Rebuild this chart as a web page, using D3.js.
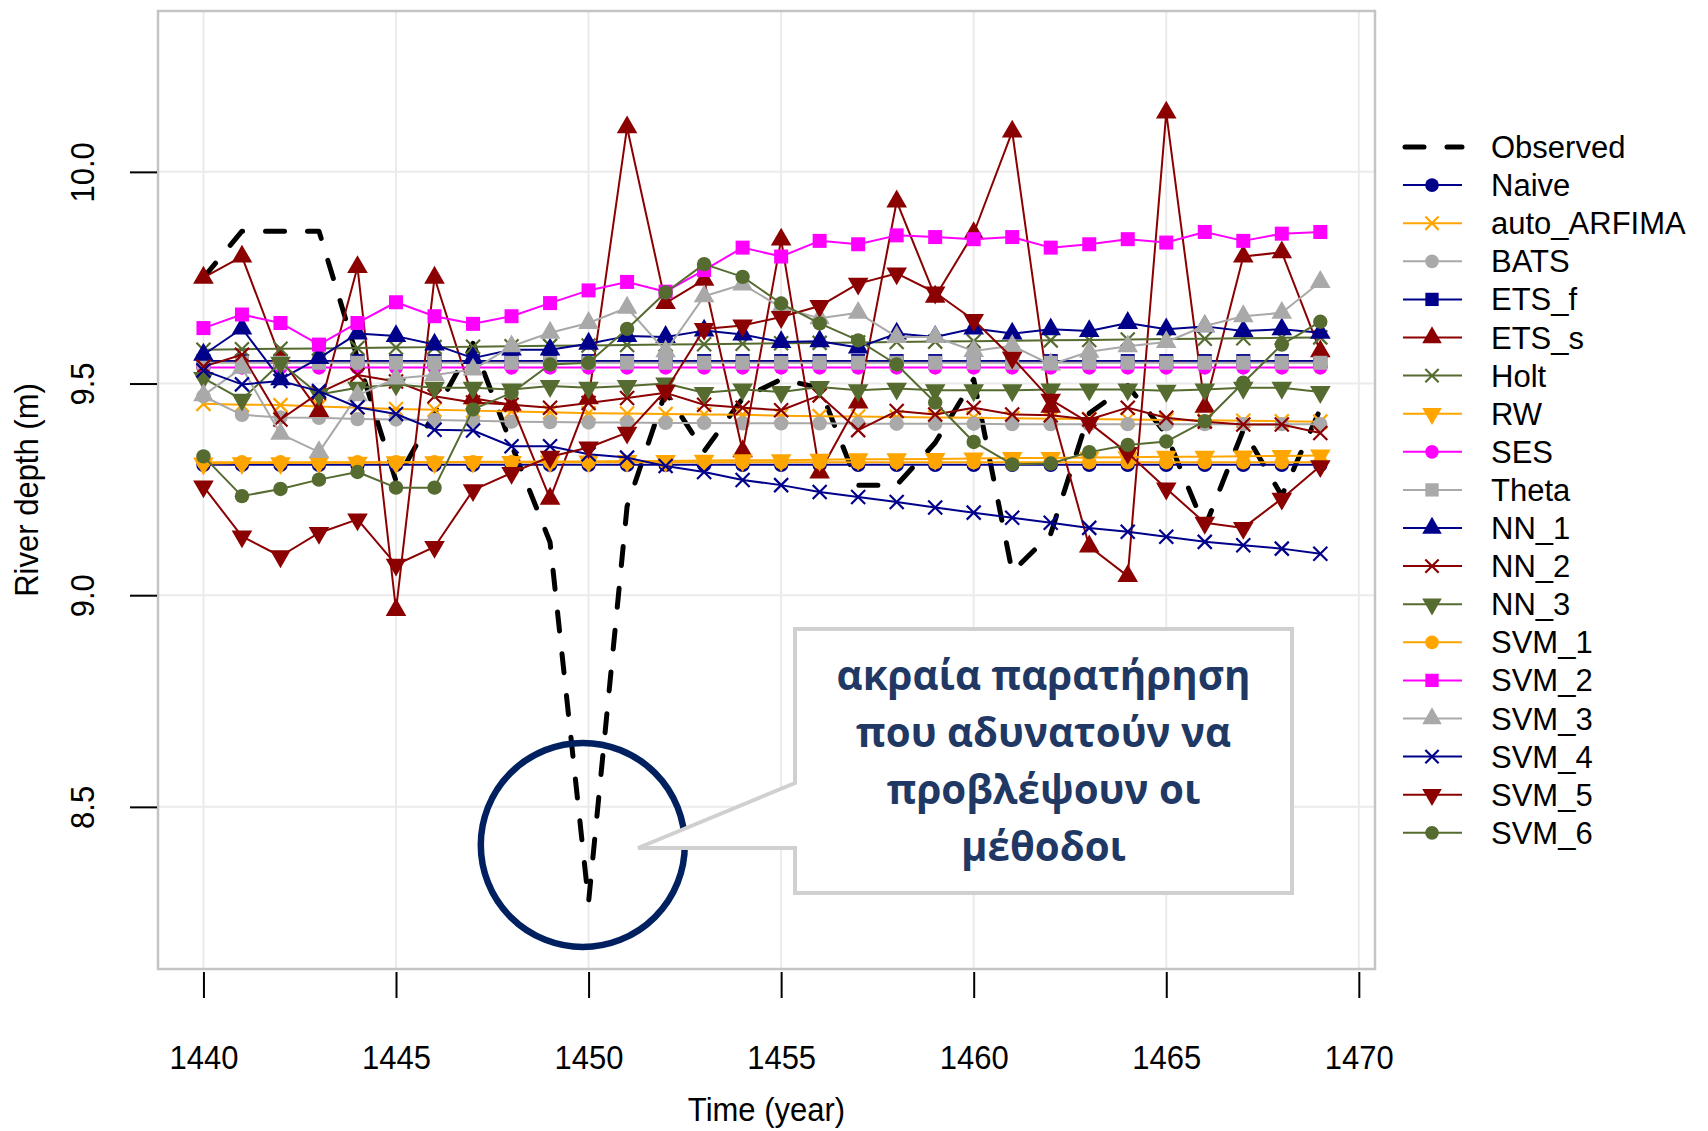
<!DOCTYPE html>
<html>
<head>
<meta charset="utf-8">
<script src="https://cdn.jsdelivr.net/npm/d3@7"></script>
<style>
  html, body { margin: 0; padding: 0; background: #ffffff; }
  svg { display: block; }
</style>
</head>
<body>
<svg id="chart" width="1708" height="1131"></svg>
<script>
// ---- data: river depth (m), observed and forecasts, years 1440-1469 ----
const years = [1440, 1441, 1442, 1443, 1444, 1445, 1446, 1447, 1448, 1449,
               1450, 1451, 1452, 1453, 1454, 1455, 1456, 1457, 1458, 1459,
               1460, 1461, 1462, 1463, 1464, 1465, 1466, 1467, 1468, 1469];

const observed = [9.750, 9.860, 9.860, 9.860, 9.560, 9.270, 9.430, 9.595, 9.355, 9.125,
                  8.275, 9.210, 9.480, 9.340, 9.465, 9.510, 9.490, 9.260, 9.260, 9.360,
                  9.510, 9.055, 9.145, 9.430, 9.495, 9.380, 9.160, 9.390, 9.235, 9.440];

const naive = [9.308, 9.308, 9.308, 9.308, 9.308, 9.308, 9.308, 9.308, 9.308, 9.308,
               9.308, 9.308, 9.308, 9.308, 9.308, 9.308, 9.308, 9.308, 9.308, 9.308,
               9.308, 9.308, 9.308, 9.308, 9.308, 9.308, 9.308, 9.308, 9.308, 9.308];

const autoArfima = [9.452, 9.450, 9.449, 9.446, 9.443, 9.440, 9.438, 9.436, 9.434, 9.432,
                    9.430, 9.429, 9.428, 9.427, 9.426, 9.424, 9.423, 9.422, 9.421, 9.420,
                    9.419, 9.418, 9.417, 9.416, 9.415, 9.414, 9.413, 9.412, 9.411, 9.410];

const bats = [9.470, 9.426, 9.420, 9.419, 9.416, 9.415, 9.414, 9.412, 9.410, 9.409,
              9.408, 9.408, 9.407, 9.407, 9.406, 9.406, 9.406, 9.405, 9.405, 9.405,
              9.405, 9.404, 9.404, 9.404, 9.404, 9.404, 9.404, 9.404, 9.404, 9.404];

const etsF = [9.553, 9.553, 9.553, 9.553, 9.553, 9.553, 9.553, 9.553, 9.553, 9.553,
              9.553, 9.553, 9.553, 9.553, 9.553, 9.553, 9.553, 9.553, 9.553, 9.553,
              9.553, 9.553, 9.553, 9.553, 9.553, 9.553, 9.553, 9.553, 9.553, 9.553];

const etsS = [9.750, 9.800, 9.560, 9.435, 9.775, 8.965, 9.750, 9.465, 9.450, 9.228,
              9.465, 10.105, 9.690, 9.745, 9.340, 9.840, 9.290, 9.455, 9.930, 9.705,
              9.855, 10.095, 9.445, 9.115, 9.045, 10.140, 9.445, 9.800, 9.810, 9.576];

const holt = [9.580, 9.581, 9.582, 9.583, 9.584, 9.585, 9.586, 9.587, 9.588, 9.589,
              9.590, 9.591, 9.592, 9.593, 9.594, 9.595, 9.596, 9.597, 9.598, 9.599,
              9.600, 9.601, 9.602, 9.603, 9.604, 9.605, 9.606, 9.607, 9.608, 9.609];

const rw = [9.311, 9.312, 9.312, 9.313, 9.313, 9.314, 9.314, 9.315, 9.315, 9.316,
            9.316, 9.317, 9.317, 9.318, 9.319, 9.319, 9.320, 9.321, 9.321, 9.322,
            9.323, 9.324, 9.324, 9.325, 9.326, 9.327, 9.327, 9.328, 9.329, 9.330];

const ses = [9.538, 9.538, 9.538, 9.538, 9.538, 9.538, 9.538, 9.538, 9.538, 9.538,
             9.538, 9.538, 9.538, 9.538, 9.538, 9.538, 9.538, 9.538, 9.538, 9.538,
             9.538, 9.538, 9.538, 9.538, 9.538, 9.538, 9.538, 9.538, 9.538, 9.538];

const theta = [9.549, 9.549, 9.549, 9.549, 9.549, 9.549, 9.549, 9.549, 9.549, 9.549,
               9.549, 9.549, 9.549, 9.549, 9.549, 9.549, 9.549, 9.549, 9.549, 9.549,
               9.549, 9.549, 9.549, 9.549, 9.549, 9.549, 9.549, 9.549, 9.549, 9.549];

const nn1 = [9.568, 9.630, 9.510, 9.560, 9.618, 9.612, 9.592, 9.560, 9.580, 9.580,
             9.594, 9.612, 9.610, 9.625, 9.616, 9.598, 9.600, 9.585, 9.618, 9.610,
             9.630, 9.618, 9.628, 9.624, 9.643, 9.628, 9.635, 9.624, 9.628, 9.620];

const nn2 = [9.540, 9.568, 9.415, 9.478, 9.520, 9.505, 9.470, 9.455, 9.450, 9.443,
             9.454, 9.466, 9.478, 9.450, 9.443, 9.437, 9.472, 9.390, 9.435, 9.427,
             9.443, 9.427, 9.425, 9.415, 9.443, 9.419, 9.410, 9.403, 9.403, 9.383];

const nn3 = [9.513, 9.462, 9.549, 9.474, 9.490, 9.498, 9.490, 9.490, 9.486, 9.494,
             9.490, 9.494, 9.500, 9.478, 9.486, 9.480, 9.492, 9.484, 9.488, 9.484,
             9.484, 9.484, 9.486, 9.486, 9.486, 9.483, 9.486, 9.490, 9.490, 9.480];

const svm1 = [9.314, 9.314, 9.314, 9.314, 9.314, 9.314, 9.314, 9.314, 9.314, 9.314,
              9.314, 9.314, 9.314, 9.314, 9.314, 9.314, 9.314, 9.314, 9.314, 9.314,
              9.314, 9.314, 9.314, 9.314, 9.314, 9.314, 9.314, 9.314, 9.314, 9.314];

const svm2 = [9.631, 9.663, 9.643, 9.592, 9.643, 9.692, 9.659, 9.641, 9.659, 9.690,
              9.720, 9.740, 9.717, 9.768, 9.821, 9.800, 9.837, 9.829, 9.850, 9.846,
              9.841, 9.846, 9.821, 9.829, 9.841, 9.833, 9.858, 9.837, 9.854, 9.858];

const svm3 = [9.472, 9.537, 9.381, 9.338, 9.472, 9.512, 9.520, 9.533, 9.588, 9.620,
              9.643, 9.679, 9.576, 9.706, 9.734, 9.680, 9.654, 9.667, 9.610, 9.610,
              9.577, 9.589, 9.545, 9.575, 9.588, 9.598, 9.636, 9.659, 9.667, 9.740];

const svm4 = [9.531, 9.498, 9.506, 9.482, 9.444, 9.428, 9.391, 9.389, 9.352, 9.352,
              9.333, 9.325, 9.305, 9.291, 9.272, 9.260, 9.244, 9.232, 9.220, 9.207,
              9.195, 9.183, 9.171, 9.159, 9.150, 9.138, 9.126, 9.118, 9.110, 9.098];

const svm5 = [9.257, 9.139, 9.092, 9.147, 9.179, 9.072, 9.114, 9.248, 9.289, 9.327,
              9.349, 9.384, 9.483, 9.629, 9.637, 9.657, 9.683, 9.736, 9.760, 9.715,
              9.650, 9.561, 9.462, 9.407, 9.336, 9.252, 9.171, 9.159, 9.228, 9.305];

const svm6 = [9.328, 9.234, 9.251, 9.273, 9.291, 9.254, 9.254, 9.439, 9.478, 9.545,
              9.549, 9.629, 9.715, 9.782, 9.752, 9.689, 9.642, 9.602, 9.545, 9.455,
              9.362, 9.309, 9.311, 9.338, 9.355, 9.363, 9.411, 9.502, 9.592, 9.646];

const xTicks = [1440, 1445, 1450, 1455, 1460, 1465, 1470];
const yTicks = [8.5, 9.0, 9.5, 10.0];

const calloutLines = ["ακραία παρατήρηση", "που αδυνατούν να", "προβλέψουν οι", "μέθοδοι"];

// ---- series styling (legend order = drawing order) ----
const series = [
  { name: "Naive",       values: naive,      color: "#00008B", shape: "circle" },
  { name: "auto_ARFIMA", values: autoArfima, color: "#FFA500", shape: "x" },
  { name: "BATS",        values: bats,       color: "#A9A9A9", shape: "circle" },
  { name: "ETS_f",       values: etsF,       color: "#00008B", shape: "square" },
  { name: "ETS_s",       values: etsS,       color: "#8B0000", shape: "up" },
  { name: "Holt",        values: holt,       color: "#556B2F", shape: "x" },
  { name: "RW",          values: rw,         color: "#FFA500", shape: "down" },
  { name: "SES",         values: ses,        color: "#FF00FF", shape: "circle" },
  { name: "Theta",       values: theta,      color: "#A9A9A9", shape: "square" },
  { name: "NN_1",        values: nn1,        color: "#00008B", shape: "up" },
  { name: "NN_2",        values: nn2,        color: "#8B0000", shape: "x" },
  { name: "NN_3",        values: nn3,        color: "#556B2F", shape: "down" },
  { name: "SVM_1",       values: svm1,       color: "#FFA500", shape: "circle" },
  { name: "SVM_2",       values: svm2,       color: "#FF00FF", shape: "square" },
  { name: "SVM_3",       values: svm3,       color: "#A9A9A9", shape: "up" },
  { name: "SVM_4",       values: svm4,       color: "#00008B", shape: "x" },
  { name: "SVM_5",       values: svm5,       color: "#8B0000", shape: "down" },
  { name: "SVM_6",       values: svm6,       color: "#556B2F", shape: "circle" }
];

const FONT = "'Liberation Sans', Arial, Helvetica, sans-serif";
const plot = { left: 158, right: 1375, top: 11, bottom: 969 };

const x = d3.scaleLinear().domain([1438.82, 1470.42]).range([plot.left, plot.right]);
const y = d3.scaleLinear().domain([8.117, 10.380]).range([plot.bottom, plot.top]);

const svg = d3.select("#chart");

// background grid
const grid = svg.append("g").attr("stroke", "#EBEBEB").attr("stroke-width", 2);
grid.selectAll("line.vx").data(xTicks).join("line")
  .attr("x1", d => x(d)).attr("x2", d => x(d))
  .attr("y1", plot.top).attr("y2", plot.bottom);
grid.selectAll("line.hy").data(yTicks).join("line")
  .attr("x1", plot.left).attr("x2", plot.right)
  .attr("y1", d => y(d)).attr("y2", d => y(d));

// plot frame
svg.append("rect")
  .attr("x", plot.left).attr("y", plot.top)
  .attr("width", plot.right - plot.left).attr("height", plot.bottom - plot.top)
  .attr("fill", "none").attr("stroke", "#C4C4C4").attr("stroke-width", 2.5);

// axes: ticks outside the frame, no axis line
const xAxis = svg.append("g")
  .attr("transform", `translate(0,${plot.bottom + 3})`)
  .call(d3.axisBottom(x).tickValues(xTicks).tickSize(26).tickFormat(d3.format("d")));
xAxis.select(".domain").remove();
xAxis.selectAll(".tick line").attr("stroke", "#000").attr("stroke-width", 2);
xAxis.selectAll(".tick text")
  .attr("y", null).attr("dy", null)
  .attr("transform", "translate(0,97) scale(1,1.1)")
  .attr("fill", "#000")
  .style("font-family", FONT).style("font-size", "31px");

const yAxis = svg.append("g")
  .attr("transform", `translate(${plot.left - 1},0)`)
  .call(d3.axisLeft(y).tickValues(yTicks).tickSize(27).tickFormat(d3.format(".1f")));
yAxis.select(".domain").remove();
yAxis.selectAll(".tick line").attr("stroke", "#000").attr("stroke-width", 2);
yAxis.selectAll(".tick text")
  .attr("x", null).attr("dy", null)
  .attr("text-anchor", "middle")
  .attr("transform", "translate(-63,0) rotate(-90) scale(1,1.1)")
  .attr("fill", "#000")
  .style("font-family", FONT).style("font-size", "31px");

// axis titles
svg.append("text")
  .attr("transform", `translate(${(plot.left + plot.right) / 2},1121) scale(1,1.1)`)
  .attr("text-anchor", "middle")
  .style("font-family", FONT).style("font-size", "31px")
  .text("Time (year)");
svg.append("text")
  .attr("transform", `translate(38,${(plot.top + plot.bottom) / 2}) rotate(-90) scale(1,1.1)`)
  .attr("text-anchor", "middle")
  .style("font-family", FONT).style("font-size", "31px")
  .text("River depth (m)");

// marker shapes
function drawMarker(sel, shape, color, s) {
  s = s || 1;
  if (shape === "circle") {
    sel.append("circle").attr("r", 7.2 * s).attr("fill", color);
  } else if (shape === "square") {
    const h = 7 * s;
    sel.append("rect").attr("x", -h).attr("y", -h).attr("width", 2 * h).attr("height", 2 * h).attr("fill", color);
  } else if (shape === "up" || shape === "down") {
    const r = 11.9 * s, w = r * Math.sqrt(3) / 2, k = shape === "up" ? 1 : -1;
    sel.append("path")
      .attr("d", `M0,${-k * r}L${w},${k * r / 2}L${-w},${k * r / 2}Z`)
      .attr("fill", color);
  } else if (shape === "x") {
    const h = 7 * s;
    sel.append("path")
      .attr("d", `M${-h},${-h}L${h},${h}M${-h},${h}L${h},${-h}`)
      .attr("stroke", color).attr("stroke-width", 2.2).attr("fill", "none");
  }
}

const line = d3.line().x((d, i) => x(years[i])).y(d => y(d));

// observed series
const data = svg.append("g");
data.append("path")
  .attr("d", line(observed))
  .attr("fill", "none").attr("stroke", "#000")
  .attr("stroke-width", 5).attr("stroke-dasharray", "19,23")
  .attr("stroke-linecap", "round").attr("stroke-linejoin", "round");

// forecast series: line, then markers
series.forEach(s => {
  const g = data.append("g");
  g.append("path")
    .attr("d", line(s.values))
    .attr("fill", "none").attr("stroke", s.color).attr("stroke-width", 2)
    .attr("stroke-linejoin", "round");
  s.values.forEach((v, i) => {
    const m = g.append("g").attr("transform", `translate(${x(years[i])},${y(v)})`);
    drawMarker(m, s.shape, s.color);
  });
});

// legend (outside the frame, right side)
const legend = svg.append("g");
const legY0 = 147, legStep = 38.1, legX1 = 1403, legX2 = 1462, legSym = 1432, legText = 1491;
const obsRow = legend.append("g").attr("transform", `translate(0,${legY0})`);
obsRow.append("line").attr("x1", legX1 + 2).attr("x2", legX2).attr("y1", 0).attr("y2", 0)
  .attr("stroke", "#000").attr("stroke-width", 5)
  .attr("stroke-dasharray", "19,23").attr("stroke-linecap", "round");
obsRow.append("text").attr("x", legText).attr("y", 11)
  .style("font-family", FONT).style("font-size", "31px").text("Observed");

series.forEach((s, i) => {
  const row = legend.append("g").attr("transform", `translate(0,${legY0 + legStep * (i + 1)})`);
  row.append("line").attr("x1", legX1).attr("x2", legX2).attr("y1", 0).attr("y2", 0)
    .attr("stroke", s.color).attr("stroke-width", 2);
  drawMarker(row.append("g").attr("transform", `translate(${legSym},0)`), s.shape, s.color, 0.95);
  row.append("text").attr("x", legText).attr("y", 11)
    .style("font-family", FONT).style("font-size", "31px").text(s.name);
});

// callout marking the extreme observation
const ann = svg.append("g");
ann.append("circle")
  .attr("cx", x(1449.85)).attr("cy", y(8.41)).attr("r", 102)
  .attr("fill", "none").attr("stroke", "#002060").attr("stroke-width", 6.5);

const box = { l: 795, r: 1292, t: 629, b: 893, tailTop: 783, tailBottom: 848, tipX: 638 };
ann.append("path")
  .attr("d", `M${box.l},${box.t}L${box.r},${box.t}L${box.r},${box.b}L${box.l},${box.b}` +
             `L${box.l},${box.tailBottom}L${box.tipX},${box.tailBottom}L${box.l},${box.tailTop}Z`)
  .attr("fill", "#ffffff").attr("stroke", "#D0D0D0").attr("stroke-width", 4)
  .attr("stroke-linejoin", "miter");

const cx = (box.l + box.r) / 2;
const labels = ann.selectAll("text.callout").data(calloutLines).join("text")
  .attr("class", "callout")
  .attr("x", cx).attr("y", (d, i) => 690 + 57 * i)
  .attr("text-anchor", "middle")
  .attr("fill", "#1F3864")
  .style("font-family", "'Open Sans', 'Noto Sans', sans-serif")
  .style("font-weight", "700")
  .style("font-size", "40px")
  .text(d => d);
const firstLen = labels.nodes()[0].getComputedTextLength();
if (firstLen > 0) labels.style("font-size", (40 * 414 / firstLen).toFixed(2) + "px");
</script>
</body>
</html>
